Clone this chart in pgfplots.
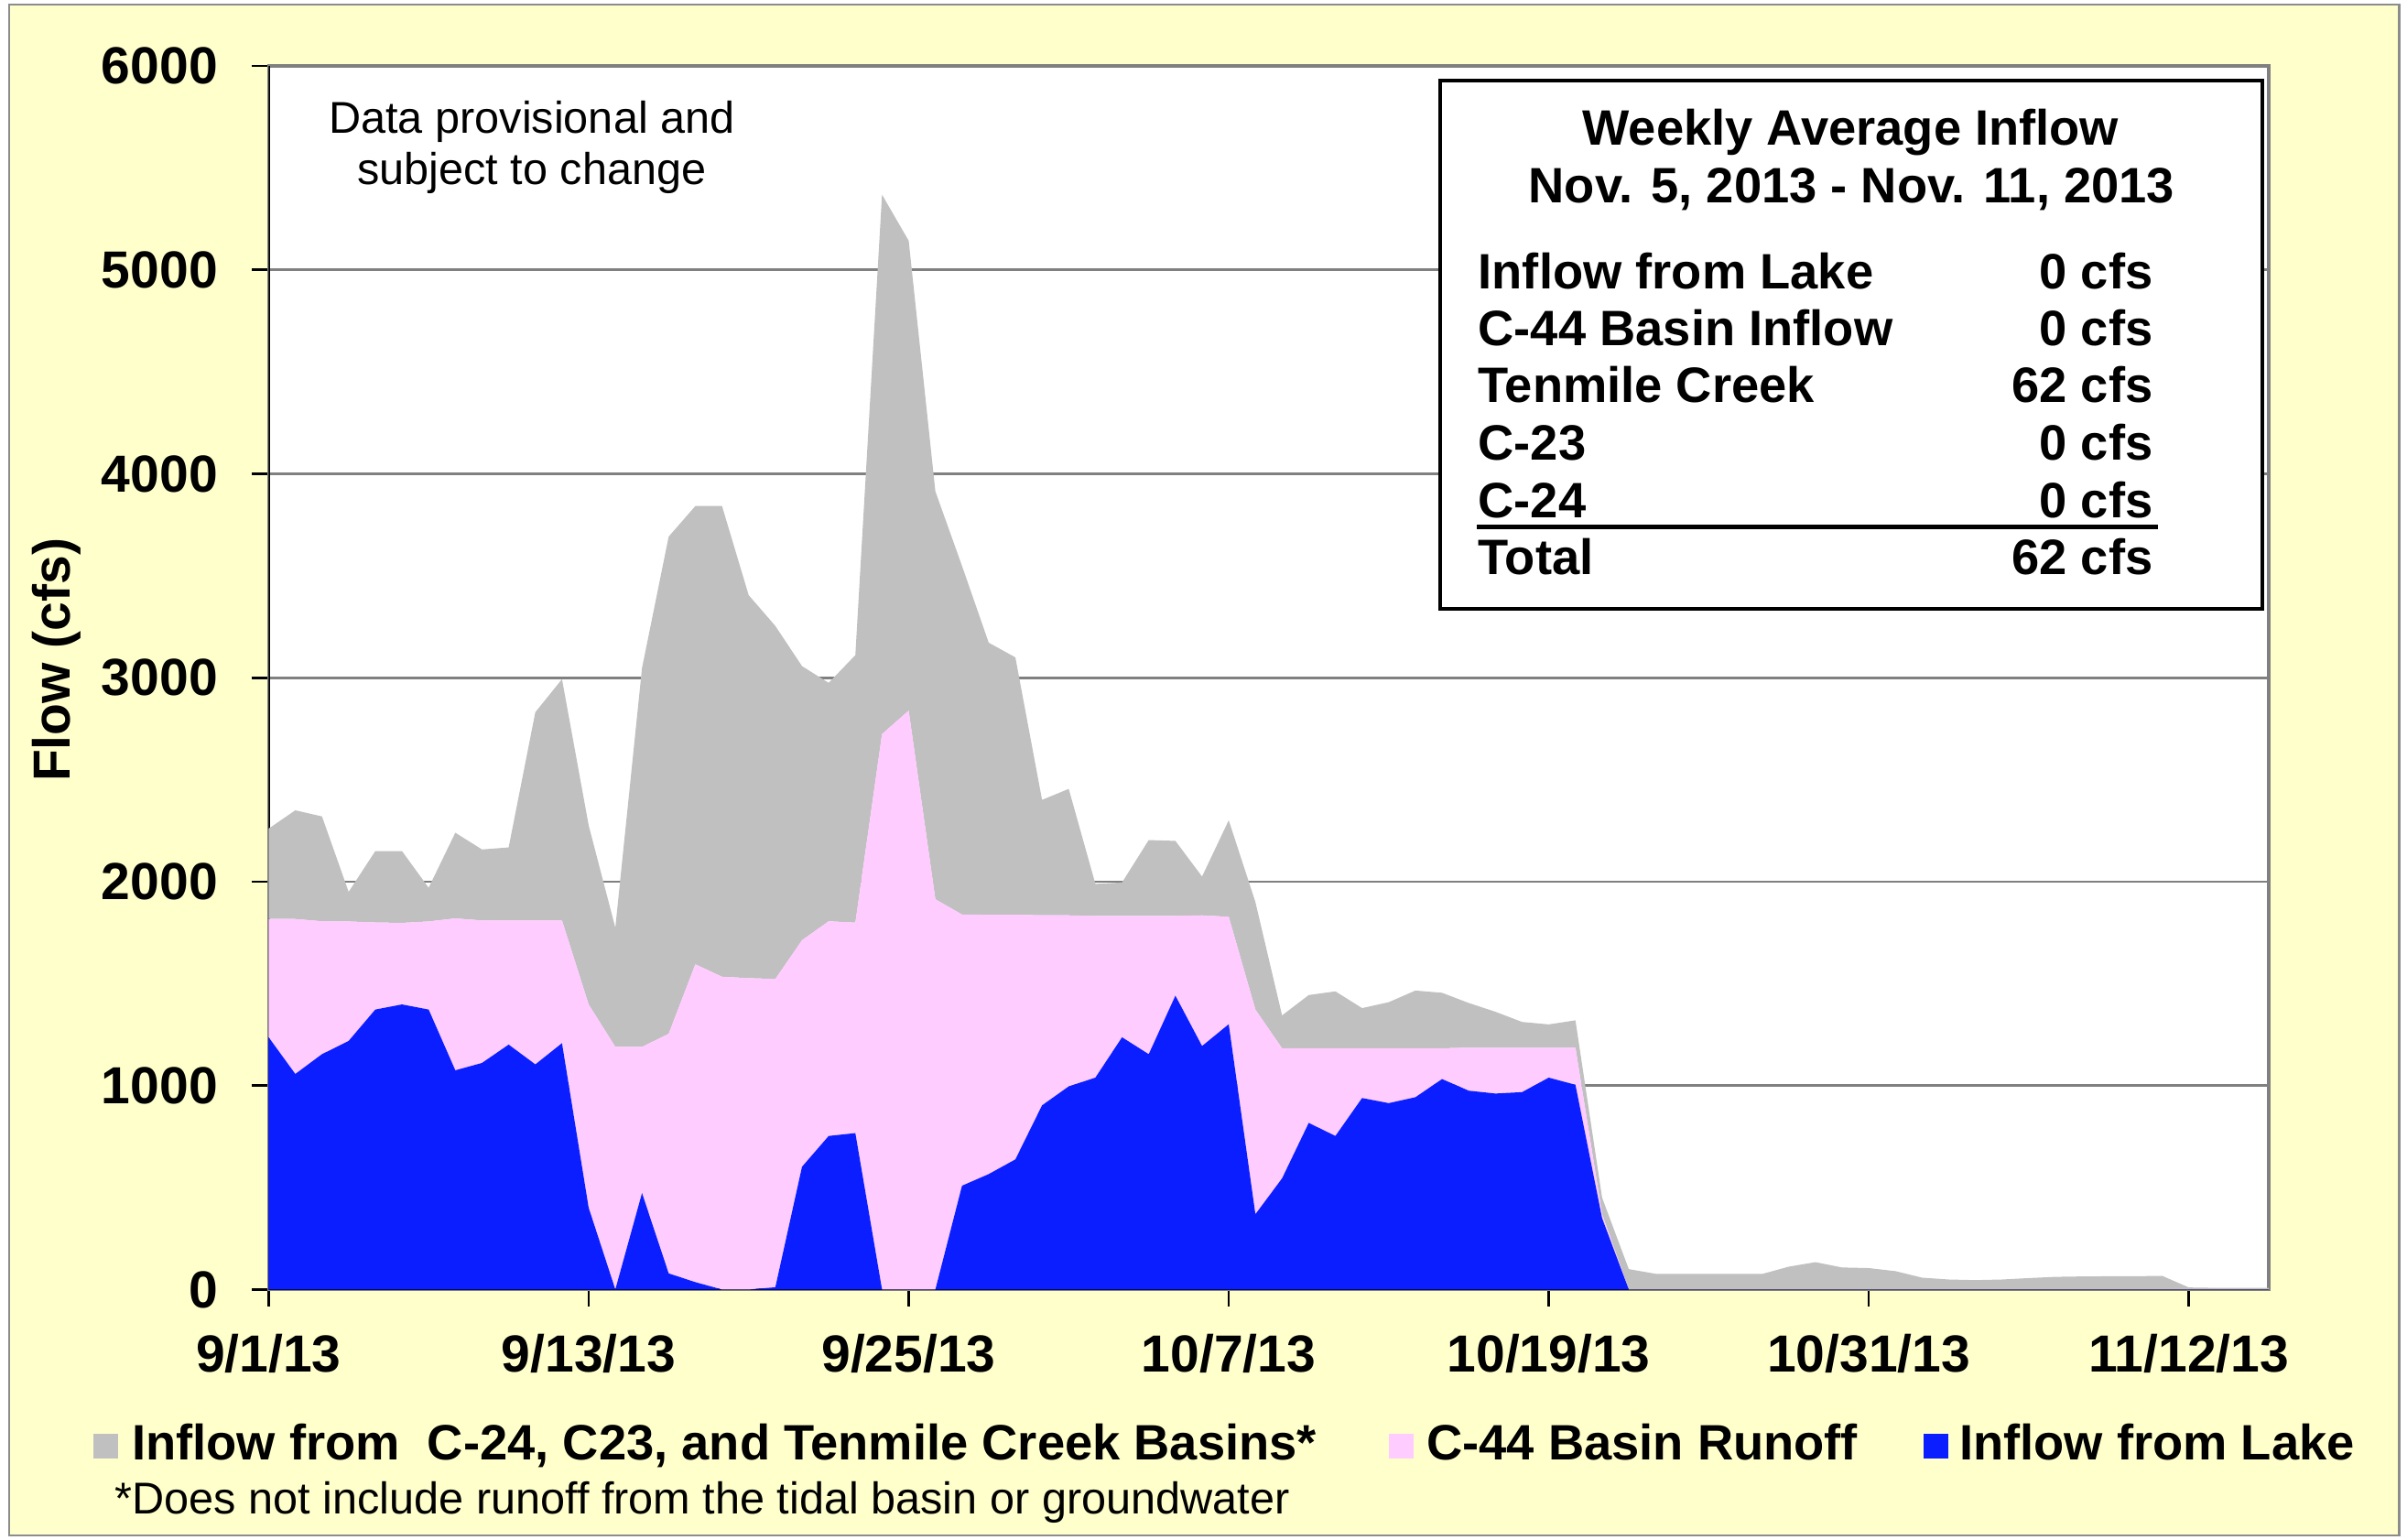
\documentclass[border=0pt]{standalone}
\usepackage{fontspec}
\setmainfont{Liberation Sans}
\usepackage{pgfplots}
\usepackage{pgfplotstable}
\pgfplotsset{compat=1.18}
\definecolor{bgyellow}{HTML}{FFFFCC}
\definecolor{basingray}{HTML}{C0C0C0}
\definecolor{c44pink}{HTML}{FFCCFF}
\definecolor{lakeblue}{HTML}{0A1EFF}
\definecolor{gridgray}{HTML}{808080}

\pgfplotstableread{
d lake c44 basin
0 1237 580 443
1 1057 760 533
2 1154 652 514
3 1219 586 145
4 1373 427 350
5 1398 400 352
6 1373 432 165
7 1075 745 420
8 1111 699 348
9 1201 609 358
10 1104 706 1021
11 1208 602 1183
12 401 997 878
13 0 1190 584
14 473 717 1857
15 79 1175 2438
16 36 1559 2247
17 0 1534 2308
18 0 1527 1878
19 11 1512 1731
20 602 1111 1344
21 753 1053 1169
22 767 1032 1312
23 0 2724 2645
24 0 2839 2304
25 0 1914 2000
26 509 1330 1709
27 566 1272 1334
28 638 1200 1262
29 903 932 566
30 996 839 620
31 1039 793 157
32 1237 595 164
33 1154 678 372
34 1441 391 368
35 1194 641 190
36 1301 527 473
37 369 1004 527
38 545 638 161
39 817 366 261
40 753 430 279
41 939 244 197
42 914 269 226
43 943 240 283
44 1032 151 272
45 975 211 219
46 961 225 176
47 968 218 126
48 1039 147 114
49 1004 182 134
50 350 20 80
51 0 0 100
52 0 0 77
53 0 0 77
54 0 0 77
55 0 0 76
56 0 0 76
57 0 0 112
58 0 0 134
59 0 0 108
60 0 0 105
61 0 0 90
62 0 0 58
63 0 0 49
64 0 0 46
65 0 0 49
66 0 0 56
67 0 0 62
68 0 0 64
69 0 0 65
70 0 0 65
71 0 0 67
72 0 0 10
73 0 0 8
74 0 0 8
75 0 0 8
}\flowdata

\newcommand{\tickfont}{\fontsize{17}{20}\selectfont\bfseries}
\newcommand{\boxfont}{\fontsize{16.2}{19}\selectfont\bfseries}
\newcommand{\notefont}{\fontsize{14.5}{17}\selectfont}

\begin{document}
\begin{tikzpicture}[x=1pt,y=1pt]
\fill[white] (-87.5,-81.5) rectangle (696.5,420);
\filldraw[fill=bgyellow, draw=black!45, line width=0.7pt] (-84.5,-80) rectangle (694,418.5);
\begin{axis}[
  at={(0,0)}, anchor=south west,
  scale only axis, width=651.5pt, height=398.5pt,
  xmin=0, xmax=75, ymin=0, ymax=6000,
  stack plots=y,
  axis background/.style={fill=white},
  xtick={0,12,24,36,48,60,72},
  xticklabels={9/1/13,9/13/13,9/25/13,10/7/13,10/19/13,10/31/13,11/12/13},
  ytick={0,1000,2000,3000,4000,5000,6000},
  yticklabels={0,1000,2000,3000,4000,5000,6000},
  ymajorgrids, grid style={gridgray, line width=0.8pt},
  tick align=outside, major tick length=5.5pt,
  tick style={black, line width=0.8pt},
  xtick pos=bottom, ytick pos=left,
  axis line style={draw=gridgray, line width=1pt},
  xticklabel style={font=\tickfont, inner sep=0pt, anchor=base, yshift=-21.25pt},
  yticklabel style={font=\tickfont, inner sep=0pt, anchor=east, xshift=-10.9pt},
]
\addplot[fill=lakeblue, draw=none] table[x=d, y=lake] {\flowdata} \closedcycle;
\addplot[fill=c44pink, draw=none] table[x=d, y=c44] {\flowdata} \closedcycle;
\addplot[fill=basingray, draw=none] table[x=d, y=basin] {\flowdata} \closedcycle;
\draw[black, line width=1pt] (rel axis cs:0,1) -- (rel axis cs:0,0) -- (rel axis cs:1,0);
\end{axis}

% y label
\node[rotate=90, font=\tickfont, inner sep=0pt] at (-69,205) {Flow (cfs)};

% provisional note
\node[font=\notefont, inner sep=0pt, anchor=base] at (85.75,376.5) {Data provisional and};
\node[font=\notefont, inner sep=0pt, anchor=base] at (85.75,359.9) {subject to change};

% inset box
\filldraw[fill=white, draw=black, line width=1.2pt] (381.5,221.7) rectangle (649.3,393.8);
\node[font=\boxfont, inner sep=0pt, anchor=base] at (515.3,372.6) {Weekly Average Inflow};
\node[font=\boxfont, inner sep=0pt, anchor=base] at (515.6,354) {Nov. 5, 2013 - Nov. 11, 2013};
\foreach \lab/\val/\yy in {Inflow from Lake/0 cfs/326, C-44 Basin Inflow/0 cfs/307.4, Tenmile Creek/62 cfs/288.9, C-23/0 cfs/270.25, C-24/0 cfs/251.5, Total/62 cfs/232.9}{
  \node[font=\boxfont, inner sep=0pt, anchor=base west] at (393.8,\yy) {\lab};
  \node[font=\boxfont, inner sep=0pt, anchor=base east] at (613.9,\yy) {\val};
}
\draw[black, line width=1.5pt] (393.5,248.5) -- (615.5,248.5);

% legend
\fill[basingray] (-57,-55) rectangle (-49,-47);
\node[font=\boxfont, inner sep=0pt, anchor=base west] at (-44.75,-55.5) {Inflow from\ \ C-24, C23, and Tenmile Creek Basins*};
\fill[c44pink] (365,-55) rectangle (373,-47);
\node[font=\boxfont, inner sep=0pt, anchor=base west] at (377,-55.5) {C-44 Basin Runoff};
\fill[lakeblue] (539,-55) rectangle (547,-47);
\node[font=\boxfont, inner sep=0pt, anchor=base west] at (550.5,-55.5) {Inflow from Lake};

% footnote
\node[font=\notefont, inner sep=0pt, anchor=base west] at (-50.25,-73) {*Does not include runoff from the tidal basin or groundwater};
\end{tikzpicture}
\end{document}
